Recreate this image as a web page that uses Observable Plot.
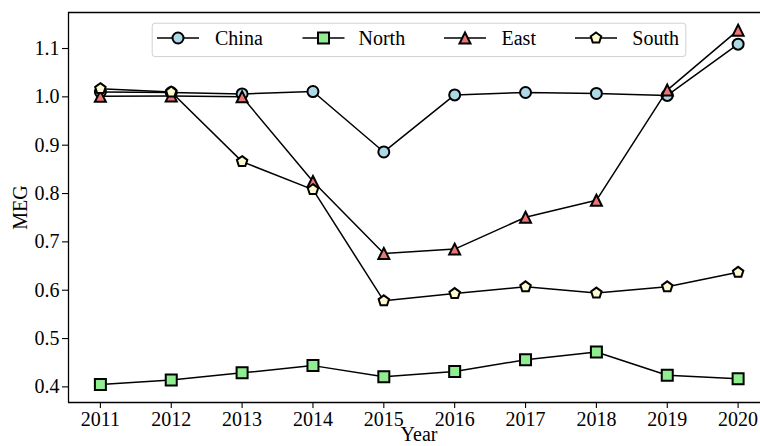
<!DOCTYPE html>
<html>
<head>
<meta charset="utf-8">
<script src="https://cdn.jsdelivr.net/npm/d3@7"></script>
<script src="https://cdn.jsdelivr.net/npm/@observablehq/plot@0.6"></script>
<style>
  html, body { margin: 0; padding: 0; background: #fff; }
  #chart { position: relative; width: 760px; height: 446px; overflow: hidden; }
  #chart svg { display: block; }
  #legend { position: absolute; left: 0; top: 0; pointer-events: none; }
</style>
</head>
<body>
<div id="chart"></div>
<script>
// MEG by region, 2011–2020
const years = [2011, 2012, 2013, 2014, 2015, 2016, 2017, 2018, 2019, 2020];
const china = [1.010, 1.009, 1.006, 1.011, 0.886, 1.004, 1.009, 1.007, 1.003, 1.109];
const north = [0.405, 0.414, 0.429, 0.444, 0.421, 0.432, 0.456, 0.472, 0.424, 0.417];
const east  = [1.001, 1.002, 1.000, 0.825, 0.676, 0.685, 0.751, 0.786, 1.014, 1.138];
const south = [1.017, 1.010, 0.866, 0.808, 0.578, 0.593, 0.607, 0.594, 0.607, 0.637];

const seriesNames = ["China", "North", "East", "South"];
const seriesValues = [china, north, east, south];
const yTicks = [0.4, 0.5, 0.6, 0.7, 0.8, 0.9, 1.0, 1.1];

const W = 760, H = 446;
const FONT = "'Liberation Serif', 'Times New Roman', serif";
const FONT_SIZE = 20;

// Marker shapes: each fits a box of side 2r, where size = PI * r^2
const radiusOf = (size) => Math.sqrt(size / Math.PI);
const squareSymbol = {
  draw(ctx, size) { const r = radiusOf(size); ctx.rect(-r, -r, 2 * r, 2 * r); }
};
const triangleSymbol = {
  draw(ctx, size) {
    const r = radiusOf(size);
    ctx.moveTo(0, -r); ctx.lineTo(r, r); ctx.lineTo(-r, r); ctx.closePath();
  }
};
const pentagonSymbol = {
  draw(ctx, size) {
    const r = radiusOf(size);
    for (let i = 0; i < 5; ++i) {
      const a = -Math.PI / 2 + i * 2 * Math.PI / 5;
      const px = r * Math.cos(a), py = r * Math.sin(a);
      if (i === 0) ctx.moveTo(px, py); else ctx.lineTo(px, py);
    }
    ctx.closePath();
  }
};

const styles = {
  China: { symbol: d3.symbolCircle, fill: "#add8e6" },
  North: { symbol: squareSymbol,    fill: "#90ee90" },
  East:  { symbol: triangleSymbol,  fill: "#ec7474" },
  South: { symbol: pentagonSymbol,  fill: "#fffacd" }
};
const MARKER_R = 5.5;

const xDomain = [2010.55, 2020.45];
const yDomain = [0.3677, 1.1745];
const marginLeft = 68, marginTop = 12, marginBottom = 44;

const marks = [];
seriesNames.forEach((name, k) => {
  const rows = years.map((year, j) => ({ year, value: seriesValues[k][j] }));
  marks.push(Plot.line(rows, { x: "year", y: "value", stroke: "black", strokeWidth: 1.5 }));
  marks.push(Plot.dot(rows, {
    x: "year", y: "value", r: MARKER_R,
    symbol: styles[name].symbol, fill: styles[name].fill,
    stroke: "black", strokeWidth: 2
  }));
});

const chart = Plot.plot({
  width: W,
  height: H,
  marginLeft,
  marginRight: 0,
  marginTop,
  marginBottom,
  style: { fontFamily: FONT, fontSize: FONT_SIZE + "px", background: "white", color: "black" },
  x: { domain: xDomain, range: [marginLeft, 769.5] },
  y: { domain: yDomain },
  marks: [
    // spines (left, top, bottom)
    Plot.ruleX([xDomain[0]], { stroke: "black", strokeWidth: 1.3 }),
    Plot.ruleY([yDomain[0]], { stroke: "black", strokeWidth: 1.3 }),
    Plot.ruleY([yDomain[1]], { stroke: "black", strokeWidth: 1.3 }),
    Plot.axisX(years, {
      tickFormat: "d", tickSize: 6, tickPadding: 3, label: null,
      stroke: "black", strokeWidth: 1.1, fontSize: FONT_SIZE
    }),
    Plot.axisY(yTicks, {
      tickFormat: d3.format(".1f"), tickSize: 6, tickPadding: 3, label: null,
      stroke: "black", strokeWidth: 1.1, fontSize: FONT_SIZE
    }),
    // axis titles
    Plot.text(["Year"], {
      frameAnchor: "bottom", text: (d) => d, dx: 4.5, dy: 32,
      lineAnchor: "middle", textAnchor: "middle", fontSize: FONT_SIZE, fill: "black"
    }),
    Plot.text(["MEG"], {
      frameAnchor: "left", text: (d) => d, dx: -47.5, rotate: -90,
      lineAnchor: "middle", textAnchor: "middle", fontSize: FONT_SIZE, fill: "black"
    }),
    ...marks
  ]
});

const root = document.getElementById("chart");
root.appendChild(chart);

// Legend, drawn over the top of the plot area
const legend = d3.create("svg")
  .attr("id", "legend")
  .attr("width", W)
  .attr("height", H)
  .style("font-family", FONT)
  .style("font-size", FONT_SIZE + "px");

legend.append("rect")
  .attr("x", 152.2).attr("y", 23.2)
  .attr("width", 533.6).attr("height", 33.4)
  .attr("rx", 3).attr("ry", 3)
  .attr("fill", "rgba(255,255,255,0.8)")
  .attr("stroke", "#d0d0d0")
  .attr("stroke-width", 1);

const handleX = [157, 302.5, 444, 575];
const labelX = [215, 358.5, 501.5, 632.3];
const rowY = 38;
seriesNames.forEach((name, k) => {
  const g = legend.append("g");
  g.append("line")
    .attr("x1", handleX[k]).attr("x2", handleX[k] + 42)
    .attr("y1", rowY).attr("y2", rowY)
    .attr("stroke", "black").attr("stroke-width", 1.5);
  g.append("path")
    .attr("transform", `translate(${handleX[k] + 21},${rowY})`)
    .attr("d", d3.symbol(styles[name].symbol, MARKER_R * MARKER_R * Math.PI)())
    .attr("fill", styles[name].fill)
    .attr("stroke", "black").attr("stroke-width", 2);
  g.append("text")
    .attr("x", labelX[k]).attr("y", rowY + 6.5)
    .attr("fill", "black")
    .text(name);
});

root.appendChild(legend.node());
</script>
</body>
</html>
